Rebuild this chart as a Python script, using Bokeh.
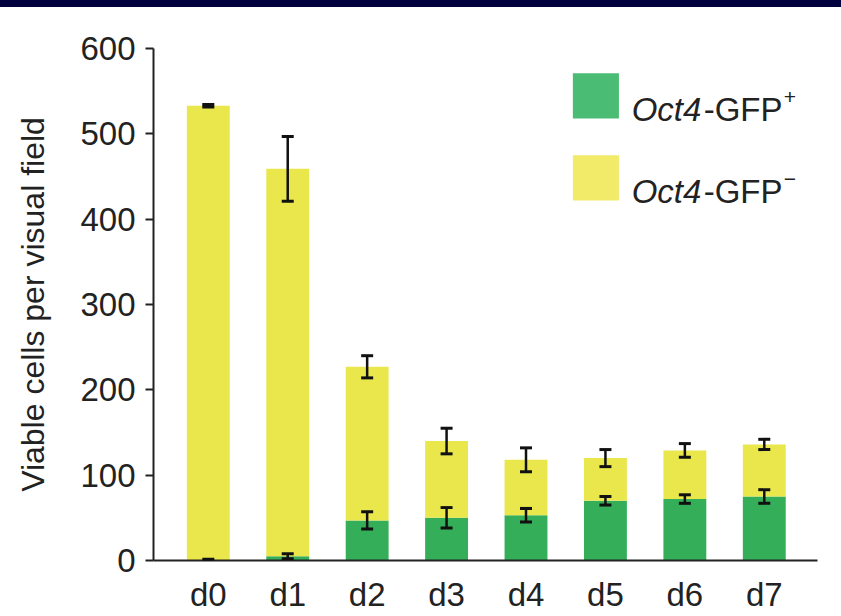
from bokeh.plotting import figure
from bokeh.models import Range1d, FixedTicker, ColumnDataSource, Whisker, TeeHead, Div
from bokeh.layouts import column
from bokeh.core.properties import value
from bokeh.embed import file_html
from bokeh.resources import INLINE

# ---- data ----
categories = ["d0", "d1", "d2", "d3", "d4", "d5", "d6", "d7"]
gfp_pos = [0, 5, 47, 50, 53, 70, 72, 75]
gfp_pos_err = [1.5, 3, 10, 12, 8, 5, 5, 8]
total = [533, 459, 227, 140, 118, 120, 129, 136]
total_err = [1.5, 38, 13, 15, 14, 10, 8, 6]
y_ticks = [0, 100, 200, 300, 400, 500, 600]
legend_gene = "Oct4"
legend_marker = "-GFP"
legend_signs = ["+", "\u2212"]

GREEN = "#35AE5A"
YELLOW = "#EAE74C"
LEG_GREEN = "#4BBC74"
LEG_YELLOW = "#F2EB6A"
FONT = "Liberation Sans"
TXT = "#222222"

xs = list(range(len(categories)))

band = Div(text="", width=841, height=7,
           styles={"background-color": "#00003F", "margin": "0", "padding": "0"})

p = figure(width=841, height=609,
           x_range=Range1d(-0.69, 7.67), y_range=Range1d(0, 600),
           output_backend="svg", toolbar_location=None,
           min_border_left=153, min_border_right=24,
           min_border_top=41, min_border_bottom=56)
p.grid.visible = False
p.outline_line_color = None
p.background_fill_color = "white"
p.border_fill_color = "white"

src = ColumnDataSource(dict(
    x=xs, pos=gfp_pos, total=total,
    pos_lo=[v - e for v, e in zip(gfp_pos, gfp_pos_err)],
    pos_hi=[v + e for v, e in zip(gfp_pos, gfp_pos_err)],
    tot_lo=[v - e for v, e in zip(total, total_err)],
    tot_hi=[v + e for v, e in zip(total, total_err)],
))

BAR_W = 0.54
p.vbar(x="x", bottom=0, top="pos", width=BAR_W, fill_color=GREEN, line_color=None, source=src)
p.vbar(x="x", bottom="pos", top="total", width=BAR_W, fill_color=YELLOW, line_color=None, source=src)

for lo, hi in (("pos_lo", "pos_hi"), ("tot_lo", "tot_hi")):
    w = Whisker(base="x", lower=lo, upper=hi, source=src, level="overlay",
                line_color="#111111", line_width=2.5,
                upper_head=TeeHead(size=12, line_width=3, line_color="#111111"),
                lower_head=TeeHead(size=12, line_width=3, line_color="#111111"))
    p.add_layout(w)

# ---- axes ----
p.yaxis.ticker = FixedTicker(ticks=y_ticks)
p.yaxis.axis_label = "Viable cells per visual field"
p.yaxis.axis_label_text_font = FONT
p.yaxis.axis_label_text_font_size = "32px"
p.yaxis.axis_label_text_font_style = "normal"
p.yaxis.axis_label_text_color = TXT
p.yaxis.axis_label_standoff = 26
p.yaxis.major_label_text_font = FONT
p.yaxis.major_label_text_font_size = "33px"
p.yaxis.major_label_text_color = TXT
p.yaxis.major_label_standoff = 10
p.yaxis.major_tick_out = 8
p.yaxis.major_tick_in = 0
p.yaxis.minor_tick_line_color = None
p.yaxis.axis_line_width = 2
p.yaxis.major_tick_line_width = 2
p.yaxis.axis_line_color = "#222222"
p.yaxis.major_tick_line_color = "#222222"

p.xaxis.ticker = FixedTicker(ticks=xs)
p.xaxis.major_label_overrides = {i: c for i, c in zip(xs, categories)}
p.xaxis.major_label_text_font = FONT
p.xaxis.major_label_text_font_size = "33px"
p.xaxis.major_label_text_color = TXT
p.xaxis.major_label_standoff = 9
p.xaxis.major_tick_line_color = None
p.xaxis.minor_tick_line_color = None
p.xaxis.axis_line_width = 2
p.xaxis.axis_line_color = "#222222"

# ---- legend (drawn manually for italic + superscript) ----
leg_left, leg_right = 4.59, 5.17
leg_rows = [(571, 518, LEG_GREEN), (475, 422, LEG_YELLOW)]
baselines = [529, 433]
text_x = 5.33
for (top, bot, col), base, sign in zip(leg_rows, baselines, legend_signs):
    p.quad(left=[leg_left], right=[leg_right], top=[top], bottom=[bot],
           fill_color=col, line_color=None)
    p.text(x=[text_x], y=[base], text=[legend_gene], text_font=value(FONT),
           text_font_size="33px", text_font_style="italic", text_color=TXT,
           text_baseline="alphabetic", text_align="left")
    p.text(x=[text_x], y=[base], text=[legend_marker], text_font=value(FONT),
           text_font_size="33px", text_color=TXT, x_offset=72,
           text_baseline="alphabetic", text_align="left")
    p.text(x=[text_x], y=[base], text=[sign], text_font=value(FONT),
           text_font_size="21px", text_color=TXT, x_offset=152, y_offset=-12,
           text_baseline="alphabetic", text_align="left")

layout = column(band, p, spacing=0)
open("out.html", "w").write(file_html(layout, INLINE))
